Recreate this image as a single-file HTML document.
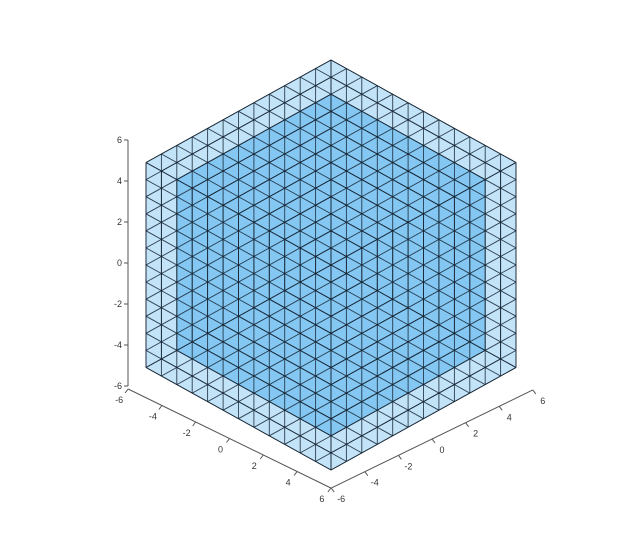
<!DOCTYPE html>
<html><head><meta charset="utf-8"><style>
html,body{margin:0;padding:0;background:#fff;}
svg{display:block;font-family:"Liberation Sans",sans-serif;}
</style></head><body>
<svg id="chart" width="640" height="550" viewBox="0 0 640 550" xmlns="http://www.w3.org/2000/svg">
<g id="fills"></g>
<g id="lines"></g>
<g id="axes"></g>
</svg>
<script>
const gridCoords = [-6,-5,-4,-3,-2,-1,0,1,2,3,4,5,6];
const tickValues = [-6,-4,-2,0,2,4,6];
const tickLabels = ["-6","-4","-2","0","2","4","6"];
const lo = -6, hi = 6;

const NS = "http://www.w3.org/2000/svg";
function P(p,q,z){ return [331 + 15.42*(p+q), 265 + 8.54*(p-q) - 17.08*z]; }
function mk(tag, attrs, parent){
  const e = document.createElementNS(NS, tag);
  for (const k in attrs) e.setAttribute(k, attrs[k]);
  parent.appendChild(e); return e;
}
const fills = document.getElementById('fills');
const lines = document.getElementById('lines');
const axes = document.getElementById('axes');
function poly(pts){ return pts.map(pt=>pt[0].toFixed(1)+','+pt[1].toFixed(1)).join(' '); }
function hexOf(a,b){ return [P(a,b,b),P(a,a,b),P(a,a,a),P(b,a,a),P(b,b,a),P(b,b,b)]; }

let el = mk('polygon',{points:poly(hexOf(lo,hi)),fill:'rgb(194,227,248)',stroke:'none'},fills);


const l1 = gridCoords[1], h1 = gridCoords[gridCoords.length-2];
el = mk('polygon',{points:poly(hexOf(l1,h1)),fill:'rgb(132,199,242)',stroke:'none'},fills);



function seg(a,b){
  const e = mk('line',{x1:a[0].toFixed(1),y1:a[1].toFixed(1),x2:b[0].toFixed(1),y2:b[1].toFixed(1),stroke:'rgba(20,35,50,0.85)','stroke-width':0.9},lines);
  
  
}
[lo,hi].forEach(f=>{
  gridCoords.forEach(c=>{
    seg(P(f,c,lo),P(f,c,hi)); seg(P(f,lo,c),P(f,hi,c));
    seg(P(c,f,lo),P(c,f,hi)); seg(P(lo,f,c),P(hi,f,c));
    seg(P(c,lo,f),P(c,hi,f)); seg(P(lo,c,f),P(hi,c,f));
  });
});

const axCol = '#555';
function zY(v){ return 263 - 20.5*v; }
function leftPt(v){ return [229.5 + 16.9*v, 438.5 + 8.25*v]; }
function rightPt(v){ return [432 + 16.8*v, 439 - 8.17*v]; }
let a = mk('line',{x1:128,y1:zY(6),x2:128,y2:zY(-6),stroke:axCol,'stroke-width':1},axes);


let p0=leftPt(-6), p1=leftPt(6);
a = mk('line',{x1:p0[0],y1:p0[1],x2:p1[0],y2:p1[1],stroke:axCol,'stroke-width':1},axes);


let r0=rightPt(-6), r1=rightPt(6);
a = mk('line',{x1:r0[0],y1:r0[1],x2:r1[0],y2:r1[1],stroke:axCol,'stroke-width':1},axes);



tickValues.forEach((v,i)=>{
  const y = zY(v);
  let t = mk('line',{x1:124,y1:y,x2:128,y2:y,stroke:axCol,'stroke-width':1},axes);
  
  
  let tx = mk('text',{x:122,y:y+3,'font-size':9,fill:'#333','text-anchor':'end'},axes);
  tx.textContent = tickLabels[i];
  
  

  const lp = leftPt(v);
  t = mk('line',{x1:lp[0],y1:lp[1],x2:lp[0]-3,y2:lp[1]+4,stroke:axCol,'stroke-width':1},axes);
  
  
  tx = mk('text',{x:lp[0]-9,y:lp[1]+14,'font-size':9,fill:'#333','text-anchor':'middle'},axes);
  tx.textContent = tickLabels[i];
  
  

  const rp = rightPt(v);
  t = mk('line',{x1:rp[0],y1:rp[1],x2:rp[0]+3,y2:rp[1]+4,stroke:axCol,'stroke-width':1},axes);
  
  
  tx = mk('text',{x:rp[0]+10,y:rp[1]+14,'font-size':9,fill:'#333','text-anchor':'middle'},axes);
  tx.textContent = tickLabels[i];
  
  
});
</script>
</body></html>
